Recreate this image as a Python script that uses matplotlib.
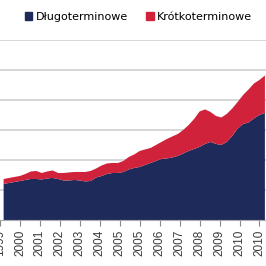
import numpy as np
import matplotlib.pyplot as plt
from matplotlib.patches import Patch

# months counted from the "2000" tick, quarterly samples
months = np.arange(-9, 136, 3)

# debt (one gridline = 50)
dlugoterminowe = [60.0, 61.7, 63.3, 65.0, 66.7, 68.3, 68.3, 67.5, 69.2, 70.0,
                  68.3, 65.8, 65.8, 66.7, 65.8, 64.2, 65.0, 70.8, 73.3, 76.7,
                  78.3, 78.3, 80.0, 84.2, 86.7, 88.3, 91.7, 95.0, 98.3, 101.7,
                  102.5, 104.2, 106.7, 110.8, 115.0, 118.3, 121.7, 126.7, 130.0, 126.7,
                  125.0, 130.0, 140.0, 152.5, 160.0, 162.5, 169.2, 175.0, 178.3]
krotkoterminowe = [8.3, 8.3, 8.4, 8.3, 10.0, 12.5, 13.4, 10.8, 11.6, 12.5,
                   10.0, 12.5, 13.4, 13.3, 14.2, 15.8, 16.7, 15.0, 17.5, 17.5,
                   16.7, 16.7, 18.3, 20.8, 22.5, 26.7, 25.8, 25.0, 26.7, 28.3,
                   32.5, 35.0, 36.6, 39.2, 43.3, 50.0, 59.1, 57.5, 50.0, 46.6,
                   45.8, 46.7, 45.8, 44.2, 48.3, 55.0, 58.3, 58.3, 62.5]

tick_months = np.arange(-11, 133, 11)
tick_labels = ['1999', '2000', '2001', '2002', '2003', '2004', '2005',
               '2005', '2006', '2007', '2008', '2009', '2010', '2010']

navy = '#1e2b5a'
red = '#d0223a'

fig = plt.figure(figsize=(2.66, 2.66), dpi=100)
ax = fig.add_axes([0.0, 0.173, 1.0, 0.677])

ax.stackplot(months, dlugoterminowe, krotkoterminowe, colors=[navy, red], lw=0)

ax.set_xlim(-9.26, 135.6)
ax.set_ylim(0, 300)
ax.set_yticks(np.arange(50, 301, 50))
ax.yaxis.grid(True, color='#d0d0d0', lw=1.2)
ax.set_axisbelow(True)
ax.tick_params(axis='y', left=False, labelleft=False)

ax.set_xticks(tick_months)
ax.set_xticklabels(tick_labels, rotation=90, fontsize=8.5, color='#3a3a3a',
                   family='Liberation Sans')
ax.tick_params(axis='x', length=4, color='#888888', pad=3)

for s in ['left', 'right', 'top']:
    ax.spines[s].set_visible(False)
ax.spines['bottom'].set_color('#aaaaaa')

handles = [Patch(color=navy), Patch(color=red)]
fig.legend(handles, ['Długoterminowe', 'Krótkoterminowe'], loc='center',
           bbox_to_anchor=(0.52, 0.937), ncol=2, frameon=False, fontsize=8,
           handlelength=0.7, handleheight=0.7, handletextpad=0.3,
           columnspacing=1.6)

fig.savefig('out.png', dpi=100)
